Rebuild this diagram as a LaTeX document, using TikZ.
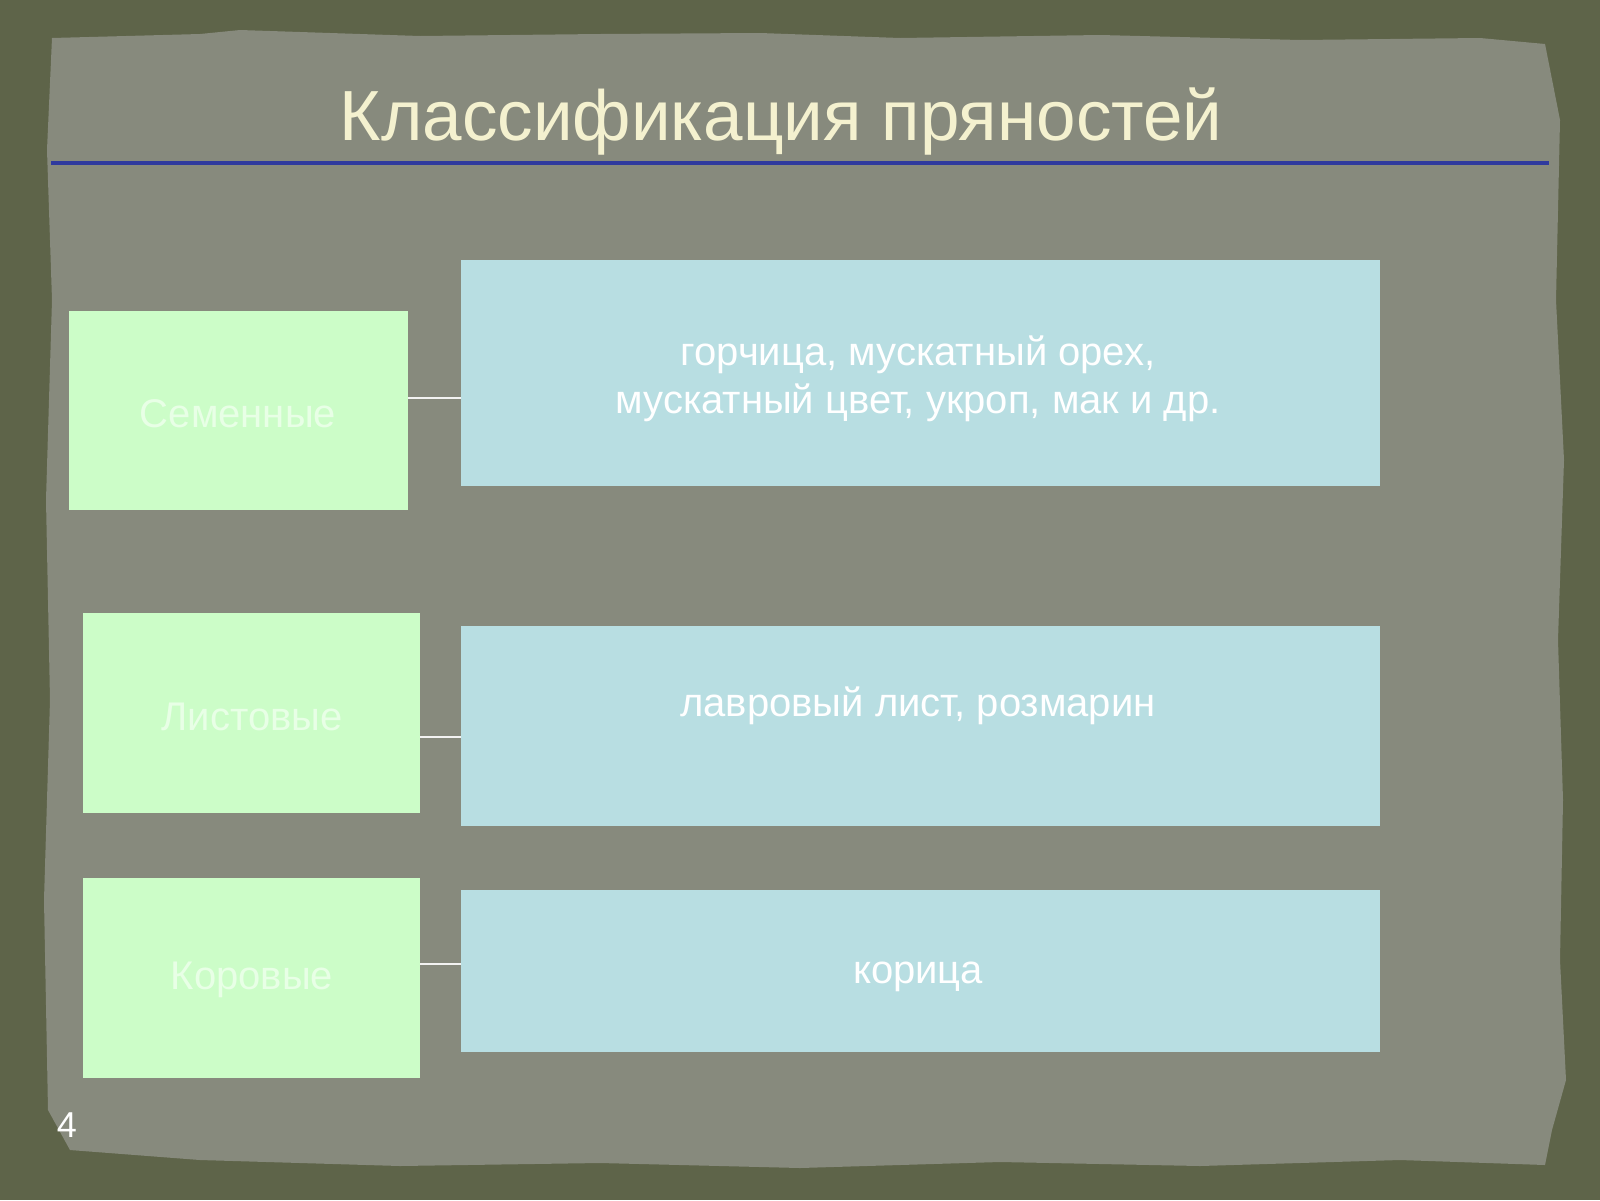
\documentclass[tikz,border=0pt]{standalone}
\usepackage{fontspec}
\setmainfont{Liberation Sans}
\definecolor{bgdark}{HTML}{5E6449}
\definecolor{paper}{HTML}{878A7D}
\definecolor{titlecol}{HTML}{F4F1CF}
\definecolor{rulecol}{HTML}{2F3A9E}
\definecolor{greenbox}{HTML}{CCFDC8}
\definecolor{greentext}{HTML}{E8FFE6}
\definecolor{bluebox}{HTML}{B8DEE2}
\begin{document}
\begin{tikzpicture}[x=1pt,y=-1pt,
  catbox/.style={fill=greenbox, draw=none, inner sep=0pt, anchor=north west},
  cattext/.style={text=greentext, font=\fontsize{40}{48}\selectfont, inner sep=0pt},
  listbox/.style={fill=bluebox, draw=none, inner sep=0pt, anchor=north west},
  listtext/.style={text=white, font=\fontsize{40}{48}\selectfont, align=center, inner sep=0pt},
  link/.style={draw=white!90!paper, line width=1.2pt}]
\useasboundingbox (0,0) rectangle (1600,1200);
\fill[bgdark] (0,0) rectangle (1600,1200);
% torn paper
\fill[paper] (52,38) -- (200,34) -- (240,30) -- (420,36) -- (600,34) -- (760,33) -- (900,38) -- (1100,35) -- (1300,40) -- (1480,38) -- (1545,44)
 -- (1560,120) -- (1556,300) -- (1564,460) -- (1558,640) -- (1563,800) -- (1560,960) -- (1566,1080) -- (1552,1130) -- (1545,1165)
 -- (1400,1160) -- (1200,1166) -- (1000,1162) -- (800,1168) -- (600,1163) -- (400,1166) -- (200,1160) -- (70,1150) -- (48,1110)
 -- (44,900) -- (50,700) -- (46,500) -- (52,300) -- (47,150) -- cycle;
% title
\node (title) at (781,122) {\color{titlecol}\fontsize{71}{78}\selectfont Классификация пряностей};
\draw[rulecol, line width=3.5pt] (51,163) coordinate (ruleL) -- (1549,163) coordinate (ruleR);
% boxes
\node[catbox, minimum width=339pt, minimum height=199pt] (c1) at (69,311) {};
\node[catbox, minimum width=337pt, minimum height=200pt] (c2) at (83,613) {};
\node[catbox, minimum width=337pt, minimum height=200pt] (c3) at (83,878) {};
\node[cattext] (s1) at (238,414) {Семенные};
\node[cattext] (s2) at (252,717) {Листовые};
\node[cattext] (s3) at (252,980) {Коровые};
\node[listbox, minimum width=919pt, minimum height=226pt] (l1) at (461,260) {};
\node[listbox, minimum width=919pt, minimum height=200pt] (l2) at (461,626) {};
\node[listbox, minimum width=919pt, minimum height=162pt] (l3) at (461,890) {};
\node[listtext] (t1) at (918,379) {горчица, мускатный орех,\\мускатный цвет, укроп, мак и др.};
\node[listtext] (t2) at (918,706) {лавровый лист, розмарин};
\node[listtext] (t3) at (918,977) {корица};
% connectors
\coordinate (a1) at (408,398); \coordinate (b1) at (461,398);
\coordinate (a2) at (420,737); \coordinate (b2) at (461,737);
\coordinate (a3) at (420,964); \coordinate (b3) at (461,964);
\draw[link] (a1) -- (b1);
\draw[link] (a2) -- (b2);
\draw[link] (a3) -- (b3);
\node[text=white, font=\fontsize{36}{40}\selectfont] (num) at (67,1125) {4};
\end{tikzpicture}
\end{document}
